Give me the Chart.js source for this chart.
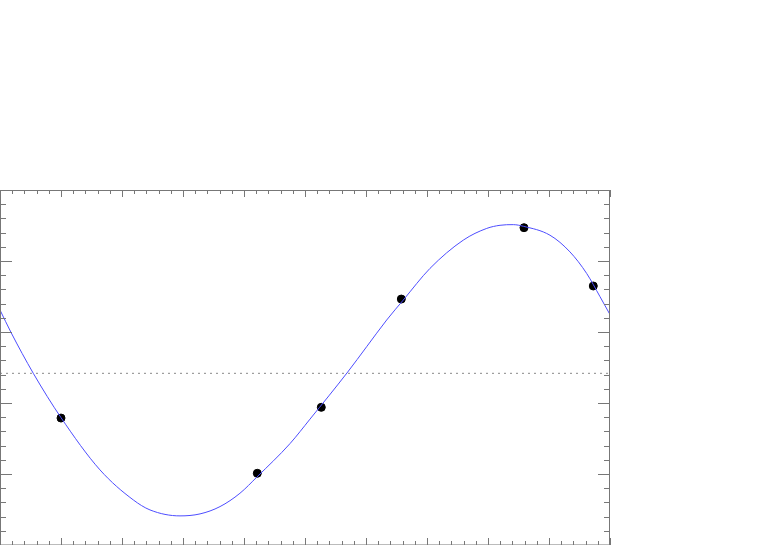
<!DOCTYPE html>
<html lang="en">
<head>
    <meta charset="UTF-8">
    <title>Sine fit</title>
    <style>
        body {
            margin: 0;
            background: #ffffff;
        }
        #fit-chart {
            display: block;
        }
    </style>
</head>
<body>
    <canvas id="fit-chart" width="763" height="545"></canvas>

    <script src="https://cdn.jsdelivr.net/npm/chart.js"></script>
    <script>
        // measured samples (x, y)
        const sampleX = [1.0, 4.218, 5.267, 6.579, 8.59, 9.726];
        const sampleY = [-0.63, -1.408, -0.479, 1.046, 2.051, 1.23];

        // fitted curve
        const fitX = [0, 0.18, 0.546, 1.0, 1.639, 2.185, 2.459, 2.951, 3.279, 3.607, 3.934, 4.213, 4.754, 5.082,
                      5.70, 6.011, 6.339, 6.611, 7.049, 7.595, 7.979, 8.197, 8.415, 8.579, 9.016, 9.344, 9.618, 9.836, 10.0];
        const fitY = [0.892, 0.577, 0.0, -0.624, -1.36, -1.783, -1.924, -2.008, -1.98, -1.877, -1.689, -1.459, -0.99, -0.645,
                      0.018, 0.375, 0.751, 1.032, 1.478, 1.876, 2.041, 2.085, 2.094, 2.071, 1.945, 1.71, 1.406, 1.08, 0.827];

        // zero reference line
        const zeroX = [0, 10];
        const zeroY = [0, 0];

        // axis ranges
        const xMin = 0, xMax = 10, xMajor = 1, xMinor = 0.2;
        const yMin = -2.418, yMax = 2.582, yMajor = 1, yMinor = 0.2;

        const toPoints = (xs, ys) => xs.map((x, i) => ({ x: x, y: ys[i] }));

        // inward ticks on all four sides, like the original frame
        const frameTicks = {
            id: 'frameTicks',
            afterDraw(chart) {
                const ctx = chart.ctx;
                const a = chart.chartArea;
                const xs = chart.scales.x, ys = chart.scales.y;
                ctx.save();
                ctx.lineWidth = 1;
                ctx.strokeStyle = '#777';
                ctx.strokeRect(a.left + 0.5, a.top + 0.5, a.right - a.left - 1, a.bottom - a.top - 0.5);

                ctx.beginPath();
                const nx = Math.round((xMax - xMin) / xMinor);
                for (let i = 0; i <= nx; i++) {
                    const px = Math.round(xs.getPixelForValue(xMin + i * xMinor)) + 0.5;
                    const len = (i % 5 === 0) ? 7 : 4;
                    ctx.moveTo(px, a.top);
                    ctx.lineTo(px, a.top + len);
                    ctx.moveTo(px, a.bottom);
                    ctx.lineTo(px, a.bottom - len);
                }
                const ny = Math.round((yMax - yMin) / yMinor);
                for (let i = 0; i <= ny; i++) {
                    const py = Math.round(ys.getPixelForValue(yMax - i * yMinor)) + 0.5;
                    const len = (i % 5 === 0) ? 12 : 6;
                    ctx.moveTo(a.left, py);
                    ctx.lineTo(a.left + len, py);
                    ctx.moveTo(a.right, py);
                    ctx.lineTo(a.right - len, py);
                }
                ctx.stroke();
                ctx.restore();
            }
        };

        const ctx = document.getElementById('fit-chart').getContext('2d');
        const fitChart = new Chart(ctx, {
            type: 'scatter',
            data: {
                datasets: [
                    {
                        label: 'zero',
                        data: toPoints(zeroX, zeroY),
                        showLine: true,
                        borderColor: '#888',
                        borderWidth: 1,
                        borderDash: [2, 4],
                        pointRadius: 0
                    },
                    {
                        label: 'fit',
                        data: toPoints(fitX, fitY),
                        showLine: true,
                        borderColor: '#4d4dff',
                        borderWidth: 1,
                        cubicInterpolationMode: 'monotone',
                        pointRadius: 0
                    },
                    {
                        label: 'samples',
                        data: toPoints(sampleX, sampleY),
                        backgroundColor: '#000',
                        borderColor: '#000',
                        pointRadius: 4,
                        pointHoverRadius: 4
                    }
                ]
            },
            options: {
                responsive: false,
                animation: false,
                layout: { autoPadding: false, padding: { top: 190, right: 153, left: 0, bottom: 0 } },
                scales: {
                    x: { type: 'linear', min: xMin, max: xMax, display: false },
                    y: { type: 'linear', min: yMin, max: yMax, display: false }
                },
                plugins: {
                    legend: { display: false },
                    tooltip: { enabled: false }
                }
            },
            plugins: [frameTicks]
        });
    </script>
</body>
</html>
